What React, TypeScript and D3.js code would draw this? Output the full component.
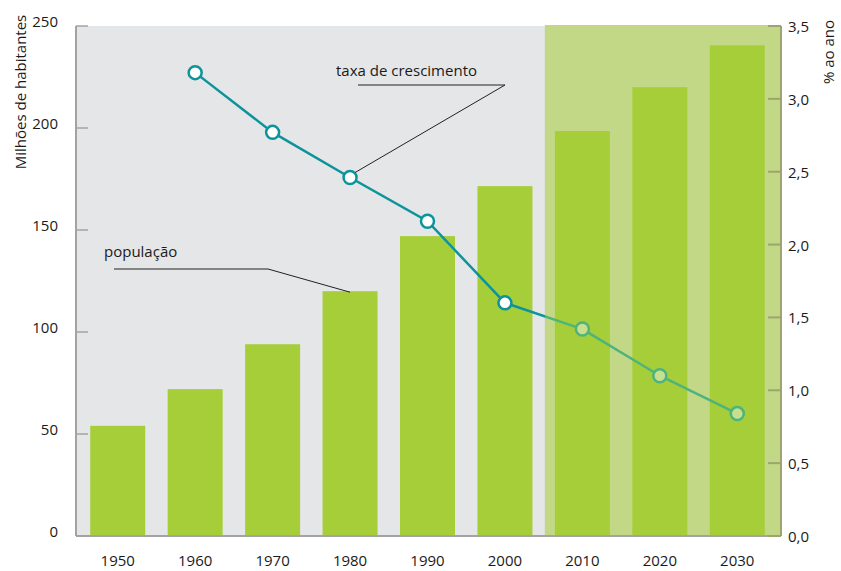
import React from "react";
import * as d3 from "d3";

const years = ["1950", "1960", "1970", "1980", "1990", "2000", "2010", "2020", "2030"];
const population = [54, 72, 94, 120, 147, 171.5, 198.5, 220, 240.5];
const rateYears = ["1960", "1970", "1980", "1990", "2000", "2010", "2020", "2030"];
const growthRate = [3.18, 2.77, 2.46, 2.16, 1.6, 1.42, 1.1, 0.84];
const forecastStart = "2010";
const leftTicks = [0, 50, 100, 150, 200, 250];
const rightTicks = [0, 0.5, 1.0, 1.5, 2.0, 2.5, 3.0, 3.5];

const W = 841, H = 571;
const L = 76, R = 781, T = 26, B = 536;
const FONT = "'Liberation Sans Narrow', 'Open Sans', sans-serif";
const TEAL = "#0d939a";
const GREEN_LINE = "#4fb37c";

export default function App() {
  const x = d3.scaleBand<string>().domain(years).range([79, 776]).paddingInner(0.29).paddingOuter(0.145);
  const yL = d3.scaleLinear().domain([0, 250]).range([B, T]);
  const yR = d3.scaleLinear().domain([0, 3.5]).range([B, T]);
  const cx = (yr: string) => (x(yr) as number) + x.bandwidth() / 2;
  const shadeX = (x(forecastStart) as number) - x.step() * 0.13;

  const pts = rateYears.map((yr, i) => ({ yr, x: cx(yr), y: yR(growthRate[i]), f: +yr >= +forecastStart }));
  const line = d3.line<{ x: number; y: number }>().x(d => d.x).y(d => d.y);
  const past = pts.filter(p => !p.f);
  const fut = pts.filter(p => p.f);
  const bridge = [past[past.length - 1], fut[0]];
  const fmt = (v: number) => v.toFixed(1).replace(".", ",");

  const p1980 = pts.find(p => p.yr === "1980")!;
  const b1980 = cx("1980");

  return (
    <svg width={W} height={H} style={{ position: "absolute", left: 0, top: 0, background: "#fff" }} fontFamily={FONT}>
      <defs>
        <linearGradient id="bridgeGrad" gradientUnits="userSpaceOnUse" x1={bridge[0].x} x2={bridge[1].x} y1={0} y2={0}>
          <stop offset={(shadeX - bridge[0].x) / (bridge[1].x - bridge[0].x)} stopColor={TEAL} />
          <stop offset={(shadeX - bridge[0].x) / (bridge[1].x - bridge[0].x)} stopColor={GREEN_LINE} />
        </linearGradient>
      </defs>
      <rect x={L} y={T} width={R - L} height={B - T} fill="#e5e6e8" />
      <rect x={shadeX} y={T - 1} width={R - shadeX} height={B - T + 1} fill="#c3d887" />
      {years.map((yr, i) => (
        <rect key={yr} x={x(yr)} y={yL(population[i])} width={x.bandwidth()} height={B - yL(population[i])} fill="#a6ce39" />
      ))}
      {/* left axis */}
      <line x1={L} x2={L} y1={T} y2={B} stroke="#a3a3a3" strokeWidth={2} />
      {leftTicks.map(t => (
        <g key={t}>
          <line x1={L} x2={L + 12} y1={yL(t)} y2={yL(t)} stroke="#a3a3a3" strokeWidth={1.5} />
          <text x={58} y={yL(t) - 3} textAnchor="end" dominantBaseline="middle" fontSize={15} fill="#1a1a1a">{t}</text>
        </g>
      ))}
      <text transform={`translate(22,${92}) rotate(-90)`} textAnchor="middle" dominantBaseline="middle" fontSize={15} fill="#1a1a1a">Milhões de habitantes</text>
      {/* bottom axis */}
      <line x1={L} x2={R} y1={B} y2={B} stroke="#a3a3a3" strokeWidth={2} />
      {years.map(yr => (
        <text key={yr} x={cx(yr)} y={562} textAnchor="middle" dominantBaseline="middle" fontSize={15} fill="#1a1a1a">{yr}</text>
      ))}
      {/* right axis */}
      <line x1={R} x2={R} y1={T} y2={B} stroke="#9ca56c" strokeWidth={2} />
      {rightTicks.map(t => (
        <g key={t}>
          <line x1={R - 13} x2={R} y1={yR(t)} y2={yR(t)} stroke="#9ca56c" strokeWidth={2} />
          <text x={788} y={yR(t) + 2} textAnchor="start" dominantBaseline="middle" fontSize={15} fill="#1a1a1a">{fmt(t)}</text>
        </g>
      ))}
      <text transform={`translate(830,${52}) rotate(-90)`} textAnchor="middle" dominantBaseline="middle" fontSize={15} fill="#1a1a1a">% ao ano</text>
      {/* lines */}
      <path d={line(past) || ""} fill="none" stroke={TEAL} strokeWidth={2.5} />
      <path d={line(bridge) || ""} fill="none" stroke="url(#bridgeGrad)" strokeWidth={2.5} />
      <path d={line(fut) || ""} fill="none" stroke={GREEN_LINE} strokeWidth={2.5} />
      {pts.map(p => (
        <circle key={p.yr} cx={p.x} cy={p.y} r={6.5} fill={p.f ? "#c8df8e" : "#ffffff"} stroke={p.f ? GREEN_LINE : TEAL} strokeWidth={2.5} />
      ))}
      {/* annotations */}
      <text x={336} y={72} dominantBaseline="middle" fontSize={15} fill="#1a1a1a">taxa de crescimento</text>
      <polyline points={`358,85 505,85 ${p1980.x + 5},${p1980.y - 5}`} fill="none" stroke="#222" strokeWidth={1} />
      <text x={104} y={253} dominantBaseline="middle" fontSize={15} fill="#1a1a1a">população</text>
      <polyline points={`114,269 268,269 ${b1980},${yL(population[3]) + 1}`} fill="none" stroke="#222" strokeWidth={1} />
    </svg>
  );
}
